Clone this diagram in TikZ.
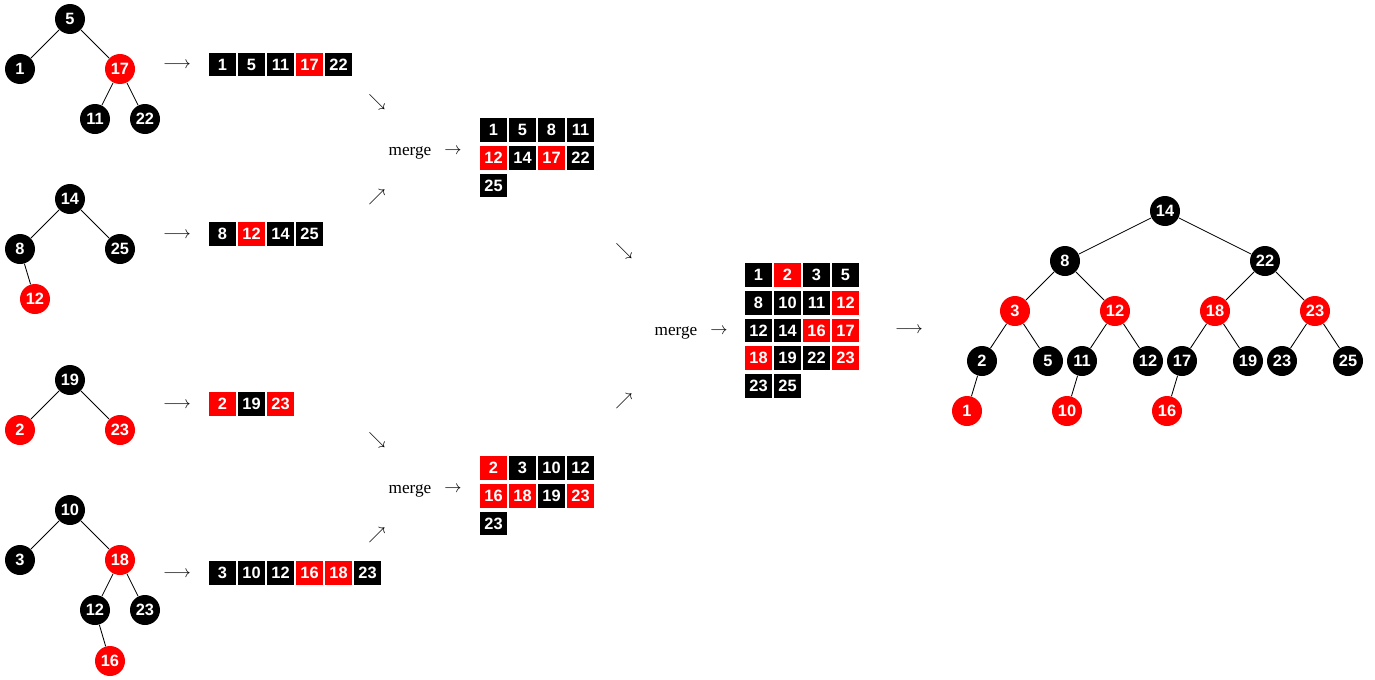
\documentclass[tikz,border=0pt]{standalone}
\usepackage{fontspec}
\setmainfont{Liberation Serif}
\setsansfont{Liberation Sans}

\tikzset{
  vtx/.style={circle,minimum size=17.4pt,inner sep=0pt,text=white,
    font=\sffamily\bfseries\fontsize{9.5}{11}\selectfont},
  cell/.style={rectangle,minimum width=16.1pt,minimum height=13.8pt,inner sep=0pt,
    text=white,font=\sffamily\bfseries\fontsize{9.5}{11}\selectfont},
  link/.style={line width=.5pt},
  sym/.style={inner sep=0pt}
}

\begin{document}
\begin{tikzpicture}[x=0.58pt,y=-0.58pt]
\useasboundingbox (0,0) rectangle (1375,679);
% the four small trees and the merged tree
\foreach \n/\x/\y/\v/\c in {
  t1a/70/19/5/black, t1b/20/69/1/black, t1c/120/69/17/red, t1d/95/119/11/black, t1e/145/119/22/black,
  t2a/70/199/14/black, t2b/20/249/8/black, t2c/120/249/25/black, t2d/35/299/12/red,
  t3a/70/380/19/black, t3b/20/430/2/red, t3c/120/430/23/red,
  t4a/70/510/10/black, t4b/20/560/3/black, t4c/120/560/18/red, t4d/95/610/12/black,
  t4e/145/610/23/black, t4f/110/661/16/red,
  f1/1165/211/14/black, f2/1065/261/8/black, f3/1265/261/22/black,
  f4/1015/311/3/red, f5/1115/311/12/red, f6/1215/311/18/red, f7/1315/311/23/red,
  f8/982/361/2/black, f9/1048/361/5/black, f10/1082/361/11/black, f11/1148/361/12/black,
  f12/1182/361/17/black, f13/1248/361/19/black, f14/1282/361/23/black, f15/1348/361/25/black,
  f16/967/411/1/red, f17/1067/411/10/red, f18/1167/411/16/red}
  \node[vtx,fill=\c] (\n) at (\x,\y) {\v};
\foreach \p/\q in {t1a/t1b,t1a/t1c,t1c/t1d,t1c/t1e,t2a/t2b,t2a/t2c,t2b/t2d,
  t3a/t3b,t3a/t3c,t4a/t4b,t4a/t4c,t4c/t4d,t4c/t4e,t4d/t4f,
  f1/f2,f1/f3,f2/f4,f2/f5,f3/f6,f3/f7,f4/f8,f4/f9,f5/f10,f5/f11,
  f6/f12,f6/f13,f7/f14,f7/f15,f8/f16,f10/f17,f12/f18}
  \draw[link] (\p) -- (\q);
% arrays and merged blocks
\foreach \nm/\ox/\oy/\cols/\vals in {
  a1/222.5/64.5/10/{1/black,5/black,11/black,17/red,22/black},
  a2/222.5/234/10/{8/black,12/red,14/black,25/black},
  a3/222.5/404/10/{2/red,19/black,23/red},
  a4/222.5/573/10/{3/black,10/black,12/black,16/red,18/red,23/black},
  m1/493.5/130/4/{1/black,5/black,8/black,11/black,12/red,14/black,17/red,22/black,25/black},
  m2/493.5/468/4/{2/red,3/black,10/black,12/black,16/red,18/red,19/black,23/red,23/black},
  m3/758.5/275/4/{1/black,2/red,3/black,5/black,8/black,10/black,11/black,12/red,12/black,
    14/black,16/red,17/red,18/red,19/black,22/black,23/red,23/black,25/black}}{
  \foreach \v/\c [count=\k from 0] in \vals {
    \pgfmathtruncatemacro{\row}{div(\k,\cols)}
    \pgfmathtruncatemacro{\col}{mod(\k,\cols)}
    \node[cell,fill=\c] (\nm-\k) at (\ox+\col*29,\oy+\row*27.7) {\v};
  }
}
% arrow symbols and labels
\foreach \n/\x/\y/\s in {
  r1/177/65/\longrightarrow, r2/177/235/\longrightarrow, r3/177/405/\longrightarrow,
  r4/177/574/\longrightarrow, r5/909/330/\longrightarrow,
  d1/377/102/\searrow, u1/377/197/\nearrow, d2/377/440/\searrow, u2/377/535/\nearrow,
  d3/624/251/\searrow, u3/624/401/\nearrow,
  s1/453/151/\rightarrow, s2/453/489/\rightarrow, s3/719/331/\rightarrow}
  \node[sym] (\n) at (\x,\y) {$\s$};
\node (mg1) at (410,153) {merge};
\node (mg2) at (410,491) {merge};
\node (mg3) at (676,333) {merge};
\end{tikzpicture}
\end{document}
